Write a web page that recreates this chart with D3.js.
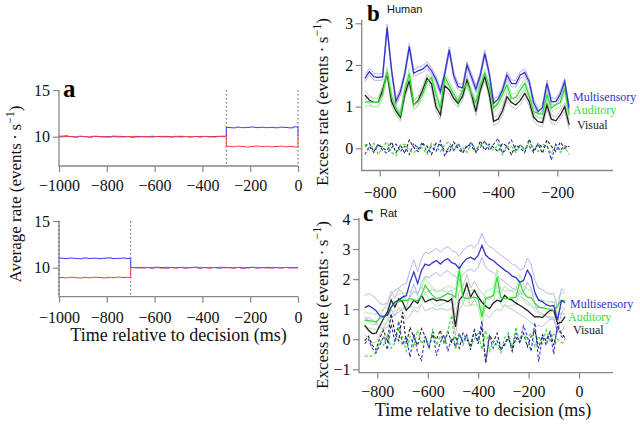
<!DOCTYPE html>
<html><head><meta charset="utf-8">
<script src="https://cdn.jsdelivr.net/npm/d3@7"></script>
<style>body{margin:0;background:#fff}svg{display:block}</style></head>
<body><svg id="c" width="640" height="424"></svg>
<script>
// ---------- DATA ----------
// Panel a (simulated average rate), 20 ms bins from -1000 to 0
const aTopBlue = [10.05,10.08,10.02,9.98,10.03,10.00,9.96,10.04,10.02,9.97,10.01,10.05,9.98,10.02,10.00,9.95,10.03,10.01,9.98,10.04,10.02,9.99,10.03,9.97,10.00,10.04,10.01,9.98,10.02,10.00,10.03,9.99,10.02,10.04,10.05,10.98,10.95,11.02,10.97,11.00,11.04,10.98,11.01,10.97,11.00,10.96,11.02,10.99,10.95,11.05,10.00];
const aTopRed = [9.98,10.02,10.00,9.95,10.04,10.01,9.97,10.03,9.99,10.02,9.96,10.00,10.04,9.98,10.01,10.03,9.97,10.00,10.02,9.96,10.01,10.03,9.98,10.00,10.04,9.97,10.02,9.99,10.01,9.98,10.02,10.00,9.97,10.01,10.02,8.97,8.93,8.98,8.95,8.90,8.96,8.99,8.94,8.97,8.92,8.95,8.98,8.93,8.96,8.90,10.00];
const aBotBlue = [11.02,10.98,11.03,11.00,10.96,11.04,10.99,11.02,10.97,11.01,11.05,10.98,11.00,11.03,10.99,10.02,9.98,10.03,10.00,9.97,10.04,10.01,9.96,10.02,9.99,10.03,9.98,10.00,10.04,9.97,10.02,9.99,10.01,9.96,10.03,10.00,9.98,10.02,9.95,10.01,10.04,9.98,10.00,10.03,9.97,10.01,9.99,10.02,9.98,10.00,9.99];
const aBotRed = [8.95,8.92,8.97,8.94,8.90,8.96,8.93,8.98,8.95,8.91,8.96,8.94,8.99,8.95,8.97,10.00,10.03,9.97,10.02,9.99,10.01,9.96,10.04,10.00,9.98,10.02,9.97,10.01,10.03,9.98,10.00,9.96,10.02,10.04,9.99,10.01,9.97,10.03,10.00,9.98,10.02,9.99,10.01,9.97,10.03,10.00,9.98,10.02,10.01,9.99,10.00];
const aTopMarks = [-300, 0];
const aBotMarks = [-1000, -700];
const aXTicks = [-1000,-800,-600,-400,-200,0];
const aYTicks = [10,15];

// Panel b (Human), 15 ms steps from -850 to -160
const hMulti = [1.68,1.84,1.72,1.70,1.72,2.90,1.88,1.12,1.36,1.80,2.44,1.80,1.86,1.90,2.00,1.86,1.66,1.36,1.80,2.36,1.75,1.48,1.45,2.00,1.72,1.42,1.76,2.28,1.80,1.08,1.18,1.40,1.76,1.56,1.55,1.76,1.82,1.60,1.10,0.88,0.98,1.56,1.12,1.12,1.30,1.60,0.96];
const hAud = [1.10,1.12,1.10,1.10,1.30,1.84,1.25,0.95,0.80,1.40,1.80,1.04,1.12,1.30,1.60,1.70,1.30,0.96,1.72,1.50,1.30,1.12,1.40,1.56,1.32,1.10,1.52,1.80,1.50,0.96,1.08,1.30,1.52,1.20,1.22,1.40,1.56,1.25,0.88,0.84,0.82,1.28,0.96,1.05,1.10,1.44,0.80];
const hVis = [1.28,1.16,1.10,1.10,1.40,1.80,1.12,0.90,0.75,1.30,1.62,1.04,1.15,1.40,1.68,1.55,1.00,0.80,1.50,1.40,1.20,1.08,1.25,1.64,1.30,0.88,1.40,1.72,1.30,0.65,0.70,0.90,1.24,1.10,1.04,1.15,1.32,1.12,0.75,0.64,0.62,1.04,0.70,0.66,0.80,1.00,0.56];
const hMultiCtl = [-0.15,0.05,-0.10,0.08,-0.05,-0.12,0.02,0.10,-0.08,0.05,-0.15,0.12,-0.02,0.15,-0.10,0.05,-0.08,0.18,-0.20,0.06,-0.05,0.12,-0.10,0.04,0.15,-0.08,0.02,0.18,-0.05,0.10,0.24,-0.12,0.06,0.20,-0.05,0.08,-0.02,0.05,-0.10,0.12,0.02,0.08,-0.28,0.10,-0.05,0.06,0.02];
const hAudCtl = [0.10,-0.05,0.12,-0.15,0.05,0.15,-0.10,-0.18,0.08,0.10,-0.05,-0.12,0.05,0.00,-0.15,0.12,0.05,-0.08,0.10,0.15,-0.05,0.08,0.02,-0.10,0.12,-0.02,0.08,0.15,0.05,-0.05,0.10,-0.15,0.02,0.05,-0.10,0.08,-0.05,0.15,0.00,-0.08,0.10,0.05,-0.12,0.08,-0.10,0.02,-0.15];
const hVisCtl = [0.05,0.12,-0.08,0.10,0.00,-0.05,0.15,-0.10,0.08,-0.12,0.20,0.02,-0.08,0.10,0.05,-0.15,0.12,0.08,-0.05,-0.10,0.15,0.00,-0.12,0.08,0.05,-0.10,0.18,-0.05,0.10,0.02,-0.08,0.12,0.05,-0.15,0.08,0.00,-0.10,0.22,-0.05,0.10,-0.12,0.20,0.05,-0.08,0.15,0.00,0.05];
const hSem = [0.08, 0.10, 0.10]; // multisensory, auditory, visual
const bXTicks = [-800,-600,-400,-200];
const bYTicks = [0,1,2,3];

// Panel c (Rat), 15 ms steps from -850 to -55
const rMulti = [1.05,1.12,1.05,0.95,0.78,0.76,0.80,1.07,1.24,1.30,1.40,1.45,1.90,2.24,1.85,2.29,2.50,2.45,2.55,2.62,2.50,2.62,2.68,2.55,2.50,2.35,2.55,2.68,2.73,2.65,2.79,3.12,2.80,2.68,2.62,2.50,2.40,2.30,2.22,2.10,2.05,1.90,1.95,2.30,2.10,1.55,1.30,1.25,1.15,1.10,1.12,0.63,1.28,1.22];
const rAud = [0.63,0.62,0.60,0.57,0.70,0.75,0.80,1.07,1.20,1.24,1.30,1.28,1.35,1.30,1.29,1.45,1.80,1.60,1.45,1.35,1.38,1.45,1.52,1.48,1.40,2.29,1.40,1.35,1.38,1.40,1.35,0.74,1.35,1.40,1.45,2.07,1.40,1.35,1.35,1.38,1.40,1.90,1.55,1.40,1.38,1.20,1.07,1.05,1.02,1.00,0.96,1.10,1.30,1.28];
const rVis = [0.47,0.30,0.19,0.20,0.45,0.70,0.90,1.30,1.07,1.35,1.25,0.96,1.10,1.30,1.20,1.46,1.24,1.30,1.35,1.28,1.32,1.30,1.25,1.35,0.41,1.30,1.46,1.85,1.40,1.63,1.40,1.24,1.10,1.02,1.20,1.30,1.25,1.46,1.35,1.30,1.20,1.13,1.05,0.96,0.85,0.74,0.75,0.72,0.85,0.96,0.95,0.52,0.57,0.75];
const rMultiCtl = [-0.15,0.00,-0.30,-0.45,-0.20,0.10,-0.35,0.50,-0.10,0.60,-0.20,0.10,-0.60,0.20,-0.45,-0.70,0.10,-0.30,0.25,-0.55,-0.10,0.15,-0.40,0.05,-0.25,0.20,-0.10,0.15,-0.35,0.30,-0.05,0.60,-0.75,0.10,-0.30,-0.05,-0.35,-0.20,0.05,-0.30,0.20,-0.10,0.45,0.10,-0.40,0.55,-0.75,0.10,-0.20,0.25,-0.50,0.55,0.10,0.00];
const rAudCtl = [-0.55,-0.58,-0.55,-0.45,-0.05,-0.20,0.15,-0.30,-0.10,0.35,0.05,-0.40,0.10,-0.25,0.30,-0.15,0.05,-0.30,0.35,-0.20,0.10,-0.10,0.30,0.80,-0.35,0.15,-0.20,0.10,-0.25,0.00,0.20,-0.35,0.30,-0.40,-0.05,-0.20,-0.45,0.05,0.20,-0.30,0.40,-0.10,0.15,0.05,0.20,-0.25,0.10,-0.15,0.30,-0.10,0.20,0.00,-0.10,-0.15];
const rVisCtl = [-0.05,0.10,-0.20,-0.35,0.05,0.30,-0.10,0.85,0.20,-0.05,0.90,-0.15,0.40,0.05,-0.20,0.35,0.10,-0.25,0.15,0.00,0.30,-0.15,0.25,-0.10,0.10,-0.30,0.20,0.00,-0.20,0.30,-0.15,0.40,-0.80,0.15,-0.10,0.20,-0.30,-0.15,0.10,-0.40,0.05,-0.10,0.20,-0.25,0.10,0.30,-0.30,0.15,-0.05,0.25,-0.20,0.40,0.20,0.05];
const rSem = [0.40, 0.25, 0.30];
const cXTicks = [-800,-600,-400,-200,0];
const cYTicks = [-1,0,1,2,3,4];

const seriesNames = ["Multisensory","Auditory","Visual"];
const seriesColors = ["#3434c8","#33dd33","#222222"];
const bandColors = ["#b4b4ee","#b0ecb0","#c4c4c4"];

// ---------- DRAW ----------
const serif = "Liberation Serif, Times New Roman, serif";
const sans = "Liberation Sans, Arial, sans-serif";
const fmt = d3.format("d");
const svg = d3.select("#c");
svg.append("rect").attr("width",640).attr("height",424).attr("fill","#fff");

function frame(g, x0, x1, y0, y1) {
  g.append("path").attr("d", `M${x0},${y0}V${y1}H${x1}`)
   .attr("fill","none").attr("stroke","#888").attr("stroke-width",1.3);
}
function styleAxis(g) {
  g.attr("font-family", serif).attr("font-size", 16);
  g.select(".domain").remove();
  g.selectAll("line").attr("stroke","#888").attr("stroke-width",1.2);
  g.selectAll("text").style("font-family",serif).style("font-size","16px").attr("fill","#111");
}
function xAxis(x, y, ticks, pad) {
  const g = svg.append("g").attr("transform",`translate(0,${y})`)
    .call(d3.axisBottom(x).tickValues(ticks).tickFormat(fmt).tickSize(6).tickPadding(pad));
  styleAxis(g);
}
function yAxis(y, x, ticks, pad) {
  const g = svg.append("g").attr("transform",`translate(${x},0)`)
    .call(d3.axisLeft(y).tickValues(ticks).tickFormat(fmt).tickSize(6).tickPadding(pad));
  styleAxis(g);
}
function yTitle(x, y, txt) {
  const t = svg.append("text").attr("transform",`translate(${x},${y}) rotate(-90)`)
    .attr("text-anchor","middle").style("font-family",serif).attr("font-size",17).attr("fill","#111");
  t.append("tspan").text(txt + " (events\u2009\u00b7\u2009s");
  t.append("tspan").attr("baseline-shift","super").attr("font-size",12).text("\u22121");
  t.append("tspan").text(")");
}

// Panel a
const aTimes = d3.range(-1000, 1, 20);
const ax = d3.scaleLinear().domain([-1000,0]).range([59,298]);
const panelsA = [
  {y: d3.scaleLinear().domain([10,15]).range([136.7,90]), bottom:166, top:90, blue:aTopBlue, red:aTopRed, marks:aTopMarks, pad:8},
  {y: d3.scaleLinear().domain([10,15]).range([267.7,221]), bottom:296.7, top:221, blue:aBotBlue, red:aBotRed, marks:aBotMarks, pad:8.5}
];
panelsA.forEach(p => {
  frame(svg, 59, 298, p.top, p.bottom);
  xAxis(ax, p.bottom, aXTicks, p.pad);
  yAxis(p.y, 59, aYTicks, 3);
  svg.selectAll(null).data(p.marks).enter().append("line")
    .attr("x1",d=>ax(d)).attr("x2",d=>ax(d)).attr("y1",p.top).attr("y2",p.bottom)
    .attr("stroke","#555").attr("stroke-width",1).attr("stroke-dasharray","1.5,2.5");
  const line = d3.line().x((d,i)=>ax(aTimes[i])).y(d=>p.y(d)).curve(d3.curveStepAfter);
  svg.append("path").datum(p.blue).attr("d",line).attr("fill","none").attr("stroke","#3a3aff").attr("stroke-width",1);
  svg.append("path").datum(p.red).attr("d",line).attr("fill","none").attr("stroke","#ff3a3a").attr("stroke-width",1);
});
svg.append("text").attr("x",63).attr("y",97).style("font-family",serif).attr("font-weight","bold").attr("font-size",25).text("a");
yTitle(21, 194, "Average rate");
svg.append("text").attr("x",178.5).attr("y",341).attr("text-anchor","middle").style("font-family",serif).attr("font-size",18).attr("fill","#111").text("Time relative to decision (ms)");

function effectPanel(o) {
  frame(svg, o.x0, o.x1, o.y0, o.y1);
  xAxis(o.x, o.y1, o.xt, o.pad);
  yAxis(o.y, o.x0, o.yt, 2.5);
  const main = [o.multi, o.aud, o.vis];
  const ctl = [o.multiCtl, o.audCtl, o.visCtl];
  const line = d3.line().x((d,i)=>o.x(o.times[i])).y(d=>o.y(d));
  const order = [2,1,0];
  order.forEach(k => {
    [1,-1].forEach(s => {
      svg.append("path").datum(main[k].map(v=>v + s*o.sem[k])).attr("d",line)
        .attr("fill","none").attr("stroke",o.bandColors[k]).attr("stroke-width",1);
    });
  });
  order.forEach(k => {
    svg.append("path").datum(ctl[k]).attr("d",line).attr("fill","none")
      .attr("stroke",seriesColors[k]).attr("stroke-width",1.1).attr("stroke-dasharray","3,2");
  });
  order.forEach(k => {
    svg.append("path").datum(main[k]).attr("d",line).attr("fill","none")
      .attr("stroke",seriesColors[k]).attr("stroke-width",1.3);
  });
  seriesNames.forEach((n,k) => {
    svg.append("text").attr("x",o.legX[k]).attr("y",o.legY[k]).style("font-family",serif)
      .attr("font-size",12).attr("fill",seriesColors[k]).text(n);
  });
  svg.append("text").attr("x",o.letter[0]).attr("y",o.letter[1]).style("font-family",serif)
    .attr("font-weight","bold").attr("font-size",23).text(o.letter[2]);
  svg.append("text").attr("x",o.sub[0]).attr("y",o.sub[1]).style("font-family",sans)
    .attr("font-size",11).attr("fill","#111").text(o.sub[2]);
  yTitle(328, o.ytitleY, "Excess rate");
}

effectPanel({
  x: d3.scaleLinear().domain([-800,-200]).range([379.7,557.3]),
  y: d3.scaleLinear().domain([0,3]).range([148.3,23.3]),
  x0:361.7, x1:613, y0:20, y1:170.5, xt:bXTicks, yt:bYTicks, pad:10,
  times: d3.range(-850, -159, 15),
  multi:hMulti, aud:hAud, vis:hVis, multiCtl:hMultiCtl, audCtl:hAudCtl, visCtl:hVisCtl,
  sem:hSem, bandColors: bandColors,
  legX:[573,573,577], legY:[100.5,114,128.5],
  letter:[367,21,"b"], sub:[387,13,"Human"], ytitleY:102
});
effectPanel({
  x: d3.scaleLinear().domain([-800,0]).range([377.3,579]),
  y: d3.scaleLinear().domain([-1,4]).range([369.3,219]),
  x0:359, x1:613, y0:218, y1:372.7, xt:cXTicks, yt:cYTicks, pad:7,
  times: d3.range(-850, -54, 15),
  multi:rMulti, aud:rAud, vis:rVis, multiCtl:rMultiCtl, audCtl:rAudCtl, visCtl:rVisCtl,
  sem:rSem, bandColors: bandColors,
  legX:[570,568,573], legY:[307.5,321,334],
  letter:[363,221,"c"], sub:[380,217,"Rat"], ytitleY:305
});
svg.append("text").attr("x",483).attr("y",416).attr("text-anchor","middle").style("font-family",serif).attr("font-size",18).attr("fill","#111").text("Time relative to decision (ms)");
</script></body></html>
